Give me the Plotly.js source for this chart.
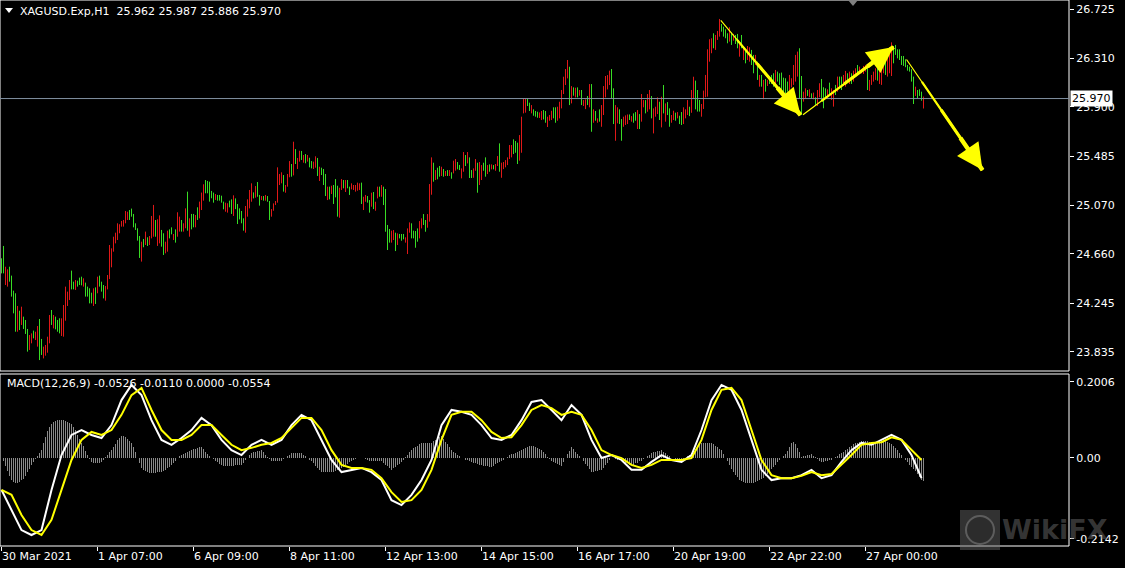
<!DOCTYPE html>
<html><head><meta charset="utf-8">
<script src="https://cdn.plot.ly/plotly-3.0.1.min.js"></script>
<style>html,body{margin:0;padding:0;background:#000;}#chart{width:1125px;height:568px;}</style>
</head><body><div id="chart"></div>
<script>
const symbol = 'XAGUSD.Exp,H1';
const open = [
24.59,24.67,24.44,24.42,24.52,24.44,24.31,24.26,24.05,24.15,
24.09,24.11,24.08,23.99,23.88,23.92,24.00,23.95,23.91,24.04,
23.92,23.80,23.82,23.85,23.94,24.16,24.05,24.11,24.08,24.09,
24.00,24.00,24.13,24.25,24.30,24.48,24.41,24.37,24.42,24.45,
24.45,24.40,24.40,24.37,24.34,24.31,24.25,24.35,24.35,24.46,
24.41,24.37,24.29,24.38,24.47,24.58,24.70,24.77,24.80,24.85,
24.90,24.90,24.94,24.96,25.01,25.03,24.98,24.91,24.86,24.78,
24.62,24.77,24.75,24.79,24.75,24.81,24.84,24.92,24.76,24.78,
24.84,24.80,24.68,24.71,24.85,24.87,24.79,24.85,24.83,24.87,
24.93,24.86,24.90,25.13,24.83,24.97,24.97,24.90,25.03,24.98,
25.05,25.13,25.26,25.25,25.24,25.18,25.16,25.12,25.15,25.15,
25.14,25.09,25.03,25.02,25.10,25.10,25.00,25.11,25.05,25.03,
25.00,24.94,24.87,25.00,25.07,25.13,25.17,25.15,25.24,25.14,
25.12,25.14,25.12,25.14,25.08,24.98,25.03,25.08,25.11,25.26,
25.27,25.30,25.19,25.24,25.33,25.40,25.35,25.52,25.39,25.45,
25.51,25.44,25.49,25.45,25.46,25.43,25.39,25.40,25.44,25.29,
25.38,25.35,25.30,25.13,25.21,25.18,25.22,25.26,25.20,25.00,
25.21,25.27,25.20,25.27,25.21,25.21,25.21,25.20,25.21,25.21,
25.24,25.05,25.11,25.14,25.10,25.07,25.16,25.04,25.14,25.21,
25.16,25.20,25.15,24.87,24.85,24.77,24.79,24.81,24.75,24.82,
24.82,24.82,24.76,24.69,24.85,24.90,24.85,24.83,24.86,24.81,
24.89,24.98,24.93,24.90,24.95,25.20,25.40,25.30,25.37,25.38,
25.33,25.36,25.32,25.36,25.33,25.34,25.35,25.38,25.42,25.40,
25.31,25.37,25.48,25.44,25.45,25.36,25.32,25.38,25.40,25.27,
25.30,25.42,25.45,25.35,25.40,25.38,25.40,25.37,25.41,25.55,
25.32,25.39,25.40,25.42,25.47,25.49,25.60,25.59,25.57,25.47,
25.55,25.86,25.87,25.96,25.92,25.86,25.87,25.86,25.85,25.82,
25.80,25.86,25.85,25.74,25.79,25.80,25.88,25.87,25.80,25.83,
25.91,26.03,26.10,26.16,26.19,25.95,26.05,26.00,26.05,26.00,
26.02,25.92,25.90,25.98,25.92,26.05,25.78,25.85,25.77,25.86,
25.75,25.86,26.00,26.06,26.10,26.19,26.02,25.65,25.78,25.86,
25.77,25.74,25.76,25.77,25.83,25.78,25.83,25.84,25.73,25.82,
25.80,25.91,25.94,25.88,25.90,25.96,25.70,25.83,25.86,25.92,
25.76,26.05,25.80,25.92,25.86,25.78,25.80,25.84,25.81,25.81,
25.84,25.78,25.82,25.85,25.89,25.87,25.99,26.09,26.02,25.94,
25.83,25.90,26.00,26.02,26.30,26.37,26.50,26.40,26.48,26.51,
26.59,26.56,26.54,26.51,26.47,26.51,26.47,26.49,26.49,26.34,
26.48,26.31,26.36,26.31,26.30,26.36,26.31,26.27,26.25,26.09,
26.15,25.99,26.12,26.09,26.13,26.15,26.16,26.10,26.18,26.16,
26.16,26.12,26.11,26.10,26.03,26.08,26.11,26.15,26.19,26.35,
26.12,25.96,25.99,26.03,25.99,26.01,25.97,25.97,25.93,26.00,
26.11,26.04,26.04,26.00,26.09,25.97,25.92,26.07,26.05,26.14,
26.13,26.09,26.09,26.17,26.11,26.17,26.13,26.17,26.24,26.19,
26.188,26.19,26.21,26.22,26.05,26.10,26.13,26.14,26.21,26.11,
26.11,26.20,26.29,26.18,26.21,26.19,26.39,26.41,26.37,26.37,
26.31,26.31,26.29,26.24,26.23,26.20,26.12,26.00,26.03,26.04,
26.02,25.962];
const high = [
24.623,24.727,24.552,24.530,24.552,24.477,24.350,24.328,24.221,24.181,
24.215,24.131,24.103,24.027,23.976,23.990,24.013,24.004,24.052,24.111,
23.943,23.878,23.892,23.962,24.145,24.187,24.145,24.131,24.103,24.117,
24.117,24.229,24.384,24.342,24.440,24.519,24.426,24.440,24.434,24.460,
24.468,24.454,24.418,24.384,24.370,24.333,24.370,24.378,24.468,24.477,
24.426,24.398,24.389,24.482,24.735,24.707,24.805,24.839,24.918,24.910,
24.938,24.946,25.022,25.016,25.030,25.042,24.997,24.918,24.876,24.811,
24.763,24.786,24.848,24.800,24.811,24.980,25.073,24.946,24.952,24.985,
24.862,24.834,24.763,24.856,24.867,24.884,24.828,24.867,25.011,24.974,
24.946,24.918,25.044,25.185,24.960,24.997,24.997,24.988,25.053,25.101,
25.177,25.247,25.283,25.275,25.269,25.191,25.177,25.165,25.157,25.157,
25.151,25.101,25.092,25.087,25.109,25.120,25.154,25.128,25.081,25.044,
25.022,24.960,25.064,25.120,25.199,25.255,25.179,25.232,25.266,25.157,
25.148,25.148,25.157,25.148,25.106,25.038,25.086,25.106,25.390,25.334,
25.348,25.325,25.241,25.334,25.443,25.418,25.606,25.544,25.469,25.530,
25.528,25.494,25.502,25.494,25.471,25.443,25.438,25.483,25.469,25.395,
25.387,25.376,25.334,25.227,25.227,25.235,25.241,25.291,25.235,25.218,
25.291,25.283,25.283,25.283,25.227,25.255,25.241,25.241,25.261,25.255,
25.261,25.142,25.157,25.148,25.114,25.176,25.182,25.100,25.227,25.227,
25.241,25.227,25.207,24.904,24.870,24.856,24.861,24.839,24.833,24.828,
24.828,24.828,24.800,24.875,24.926,24.918,24.856,24.853,24.875,24.937,
24.960,24.996,24.946,24.996,25.249,25.474,25.429,25.367,25.387,25.401,
25.395,25.376,25.359,25.367,25.367,25.348,25.446,25.460,25.435,25.410,
25.381,25.519,25.494,25.519,25.474,25.367,25.381,25.460,25.429,25.435,
25.409,25.429,25.474,25.409,25.415,25.415,25.409,25.418,25.485,25.592,
25.429,25.435,25.451,25.474,25.578,25.578,25.626,25.612,25.598,25.662,
25.817,25.971,25.971,25.971,25.935,25.915,25.879,25.865,25.859,25.853,
25.865,25.873,25.865,25.817,25.831,25.867,25.896,25.896,25.901,25.943,
26.042,26.154,26.219,26.295,26.238,26.075,26.064,26.061,26.064,26.042,
26.042,25.957,25.963,25.991,26.092,26.092,25.879,25.865,25.803,25.879,
25.915,26.075,26.160,26.168,26.205,26.219,26.056,25.915,25.896,25.879,
25.797,25.817,25.828,25.836,25.836,25.822,25.845,25.856,25.873,25.839,
26.008,25.957,25.957,26.008,26.042,25.991,25.887,25.901,25.980,25.943,
25.985,26.084,25.929,25.940,25.887,25.831,25.867,25.851,25.856,25.825,
25.856,25.896,25.879,25.957,25.901,26.042,26.154,26.121,26.042,25.958,
25.924,26.037,26.169,26.385,26.470,26.478,26.520,26.506,26.540,26.641,
26.599,26.576,26.554,26.520,26.571,26.526,26.515,26.506,26.515,26.436,
26.506,26.408,26.385,26.413,26.402,26.380,26.338,26.338,26.281,26.169,
26.169,26.127,26.135,26.127,26.141,26.169,26.183,26.211,26.197,26.183,
26.189,26.146,26.141,26.113,26.169,26.141,26.253,26.338,26.366,26.394,
26.160,26.028,26.056,26.042,26.048,26.014,26.020,25.981,26.042,26.099,
26.135,26.065,26.056,26.048,26.104,26.056,26.042,26.085,26.155,26.155,
26.155,26.169,26.203,26.183,26.197,26.183,26.205,26.225,26.253,26.239,
26.205,26.245,26.253,26.253,26.127,26.169,26.197,26.225,26.225,26.234,
26.295,26.323,26.309,26.323,26.402,26.444,26.413,26.422,26.385,26.385,
26.329,26.329,26.301,26.253,26.239,26.217,26.155,26.070,26.042,26.048,
26.028,25.987];
const low = [
24.496,24.496,24.398,24.384,24.426,24.300,24.159,24.004,24.004,24.018,
24.061,24.027,23.985,23.836,23.850,23.906,23.948,23.934,23.878,23.765,
23.808,23.779,23.802,23.827,23.906,24.061,24.032,24.024,24.004,23.990,
23.968,23.962,24.097,24.221,24.271,24.361,24.361,24.356,24.384,24.398,
24.395,24.384,24.300,24.300,24.243,24.243,24.221,24.238,24.328,24.384,
24.342,24.285,24.266,24.361,24.448,24.547,24.679,24.749,24.777,24.834,
24.890,24.890,24.918,24.946,24.946,24.974,24.884,24.862,24.772,24.626,
24.595,24.716,24.735,24.727,24.735,24.791,24.805,24.805,24.727,24.749,
24.721,24.651,24.665,24.679,24.791,24.825,24.777,24.755,24.805,24.848,
24.848,24.848,24.876,24.856,24.805,24.867,24.884,24.884,24.946,24.960,
25.030,25.109,25.171,25.171,25.101,25.129,25.092,25.115,25.109,25.109,
25.092,25.036,25.016,25.008,25.053,24.997,24.980,25.038,24.912,24.951,
24.918,24.856,24.839,24.974,25.044,25.100,25.128,25.134,25.142,25.067,
25.114,25.109,25.109,25.100,24.946,24.974,25.024,25.072,25.092,25.241,
25.255,25.185,25.176,25.227,25.306,25.311,25.322,25.418,25.376,25.438,
25.452,25.429,25.424,25.438,25.390,25.381,25.376,25.387,25.317,25.275,
25.325,25.241,25.148,25.114,25.120,25.165,25.081,25.137,24.974,24.965,
25.199,25.213,25.182,25.213,25.157,25.204,25.199,25.185,25.193,25.199,
25.081,25.030,25.100,25.092,25.008,25.058,25.038,25.024,25.128,25.142,
25.142,25.072,24.847,24.693,24.755,24.755,24.777,24.684,24.735,24.791,
24.771,24.783,24.755,24.659,24.839,24.791,24.791,24.712,24.763,24.791,
24.875,24.904,24.847,24.881,24.932,25.159,25.269,25.283,25.289,25.311,
25.317,25.311,25.317,25.317,25.317,25.294,25.339,25.362,25.373,25.367,
25.297,25.353,25.401,25.423,25.300,25.300,25.302,25.361,25.176,25.241,
25.283,25.361,25.311,25.333,25.353,25.373,25.373,25.361,25.401,25.353,
25.302,25.375,25.390,25.409,25.460,25.474,25.502,25.513,25.418,25.446,
25.513,25.845,25.851,25.907,25.865,25.845,25.825,25.817,25.808,25.806,
25.789,25.794,25.766,25.730,25.783,25.789,25.803,25.766,25.783,25.803,
25.887,26.008,26.084,26.140,25.915,25.929,25.994,25.980,25.980,25.994,
25.915,25.907,25.881,25.915,25.896,25.690,25.766,25.783,25.766,25.775,
25.732,25.831,25.980,26.047,26.084,25.971,25.755,25.614,25.761,25.755,
25.614,25.732,25.747,25.755,25.789,25.775,25.766,25.783,25.713,25.713,
25.775,25.896,25.845,25.859,25.879,25.803,25.676,25.817,25.839,25.789,
25.727,25.845,25.775,25.831,25.732,25.766,25.789,25.783,25.803,25.755,
25.747,25.755,25.803,25.831,25.822,25.850,25.970,25.879,25.860,25.860,
25.817,25.882,25.981,25.986,26.281,26.352,26.394,26.380,26.464,26.492,
26.534,26.492,26.478,26.436,26.450,26.422,26.458,26.430,26.394,26.323,
26.394,26.295,26.267,26.295,26.281,26.253,26.183,26.253,26.127,26.070,
26.070,25.964,26.028,26.076,26.093,26.093,26.070,26.076,26.113,26.085,
26.042,26.000,25.992,26.028,26.000,26.065,26.085,26.113,26.155,25.972,
25.832,25.944,25.972,25.992,25.981,25.972,25.964,25.916,25.907,25.981,
25.958,25.888,25.972,25.986,26.000,25.958,25.902,26.000,26.028,26.070,
26.042,26.076,26.070,26.104,26.093,26.093,26.113,26.155,26.169,26.177,
26.183,26.177,26.197,26.042,26.034,26.085,26.113,26.127,26.121,26.093,
26.085,26.183,26.169,26.155,26.183,26.160,26.267,26.338,26.309,26.295,
26.253,26.245,26.234,26.205,26.197,26.113,25.924,25.992,25.972,25.992,
25.952,25.886];
const close = [
24.53,24.55,24.51,24.49,24.46,24.34,24.20,24.06,24.17,24.05,
24.18,24.05,24.01,23.87,23.95,23.97,23.96,23.99,24.02,23.80,
23.83,23.86,23.87,23.94,24.11,24.08,24.12,24.04,24.03,24.02,
24.09,24.20,24.35,24.31,24.41,24.39,24.38,24.42,24.40,24.41,
24.41,24.44,24.32,24.32,24.27,24.26,24.34,24.27,24.44,24.40,
24.36,24.30,24.36,24.46,24.69,24.68,24.78,24.82,24.89,24.89,
24.93,24.93,25.00,25.00,24.97,24.99,24.91,24.87,24.79,24.66,
24.74,24.73,24.83,24.74,24.80,24.95,25.02,24.83,24.92,24.95,
24.75,24.68,24.75,24.83,24.81,24.84,24.82,24.78,24.98,24.95,
24.87,24.90,25.02,24.90,24.94,24.89,24.90,24.97,24.97,25.08,
25.15,25.22,25.19,25.19,25.13,25.14,25.11,25.15,25.12,25.12,
25.10,25.05,25.08,25.07,25.06,25.02,25.13,25.05,24.94,24.97,
24.94,24.88,25.04,25.10,25.17,25.23,25.14,25.21,25.16,25.08,
25.14,25.12,25.15,25.11,24.97,25.03,25.08,25.10,25.36,25.32,
25.33,25.21,25.23,25.32,25.42,25.33,25.57,25.44,25.45,25.51,
25.47,25.48,25.44,25.48,25.41,25.39,25.43,25.47,25.34,25.38,
25.34,25.26,25.18,25.21,25.14,25.22,25.11,25.16,25.00,25.19,
25.27,25.23,25.26,25.23,25.17,25.24,25.23,25.23,25.25,25.24,
25.10,25.12,25.15,25.10,25.03,25.16,25.06,25.09,25.21,25.16,
25.22,25.10,24.90,24.72,24.78,24.84,24.85,24.71,24.82,24.80,
24.78,24.79,24.79,24.85,24.91,24.81,24.80,24.74,24.78,24.92,
24.95,24.92,24.87,24.98,25.22,25.44,25.29,25.35,25.31,25.33,
25.38,25.33,25.35,25.33,25.36,25.31,25.43,25.44,25.39,25.38,
25.37,25.49,25.42,25.50,25.33,25.31,25.37,25.44,25.21,25.41,
25.39,25.37,25.33,25.39,25.37,25.41,25.38,25.41,25.47,25.38,
25.41,25.43,25.44,25.46,25.56,25.56,25.53,25.53,25.45,25.64,
25.79,25.95,25.95,25.92,25.88,25.90,25.84,25.83,25.82,25.84,
25.85,25.81,25.78,25.80,25.82,25.85,25.82,25.79,25.88,25.92,
26.01,26.13,26.19,26.27,25.95,26.05,26.01,26.04,26.00,26.03,
25.93,25.95,25.95,25.93,26.07,25.73,25.86,25.80,25.80,25.79,
25.89,26.05,26.14,26.15,26.19,26.00,25.79,25.88,25.88,25.78,
25.65,25.80,25.81,25.82,25.80,25.81,25.78,25.80,25.85,25.74,
25.98,25.95,25.86,25.99,26.02,25.83,25.86,25.89,25.96,25.81,
25.95,25.87,25.91,25.85,25.76,25.82,25.85,25.80,25.85,25.77,
25.77,25.87,25.87,25.94,25.84,26.01,26.13,25.91,25.89,25.88,
25.91,26.01,26.14,26.34,26.44,26.46,26.42,26.49,26.53,26.61,
26.55,26.51,26.49,26.45,26.55,26.44,26.50,26.45,26.42,26.42,
26.41,26.39,26.29,26.39,26.38,26.28,26.21,26.32,26.15,26.15,
26.09,26.10,26.05,26.12,26.10,26.11,26.09,26.19,26.13,26.10,
26.07,26.03,26.02,26.05,26.14,26.13,26.23,26.31,26.34,26.01,
25.87,26.01,26.04,26.00,26.04,25.98,26.01,25.93,26.02,26.08,
25.99,25.91,25.99,26.04,26.02,26.04,26.02,26.02,26.13,26.09,
26.07,26.15,26.18,26.12,26.18,26.11,26.19,26.21,26.19,26.23,
26.20,26.23,26.24,26.07,26.11,26.15,26.18,26.21,26.14,26.21,
26.27,26.30,26.19,26.30,26.37,26.42,26.29,26.35,26.32,26.31,
26.27,26.26,26.25,26.21,26.20,26.13,25.95,26.06,25.99,26.00,
25.97,25.970];

// MACD lines, sampled every 5 bars
const macdStep = 5;
const macdMain = [
-0.085,-0.138,-0.191,-0.204,-0.191,-0.085,0.007,0.060,0.073,0.060,
0.052,0.086,0.152,0.192,0.165,0.099,0.047,0.034,0.052,0.073,
0.105,0.086,0.047,0.020,0.007,0.034,0.047,0.034,0.047,0.086,
0.113,0.099,0.047,-0.006,-0.038,-0.032,-0.027,-0.038,-0.059,-0.112,
-0.125,-0.098,-0.059,-0.006,0.086,0.126,0.121,0.113,0.086,0.052,
0.047,0.060,0.099,0.147,0.152,0.126,0.099,0.139,0.113,0.047,
-0.001,0.007,-0.006,-0.032,-0.032,-0.011,0.007,-0.006,-0.011,0.007,
0.073,0.152,0.192,0.179,0.126,0.047,-0.032,-0.059,-0.054,-0.054,
-0.046,-0.032,-0.054,-0.046,-0.011,0.020,0.039,0.034,0.047,0.060,
0.047,0.007,-0.054];
const macdSignal = [
-0.085,-0.098,-0.151,-0.191,-0.204,-0.164,-0.085,-0.006,0.047,0.068,
0.060,0.073,0.113,0.165,0.184,0.126,0.073,0.047,0.047,0.060,
0.086,0.086,0.060,0.034,0.020,0.026,0.034,0.039,0.052,0.078,
0.105,0.105,0.073,0.020,-0.019,-0.027,-0.027,-0.032,-0.054,-0.091,
-0.117,-0.112,-0.085,-0.032,0.047,0.113,0.121,0.121,0.099,0.068,
0.052,0.054,0.086,0.126,0.139,0.131,0.113,0.121,0.113,0.073,
0.020,0.007,-0.001,-0.019,-0.027,-0.019,-0.006,-0.006,-0.006,-0.001,
0.047,0.126,0.179,0.184,0.152,0.073,-0.006,-0.046,-0.054,-0.054,
-0.048,-0.038,-0.046,-0.043,-0.019,0.007,0.034,0.039,0.041,0.054,
0.047,0.020,-0.006];
// MACD histogram, one value per bar
const macdHist = [
0.000,-0.010,-0.022,-0.035,-0.048,-0.060,-0.064,-0.066,-0.066,-0.063,
-0.060,-0.055,-0.047,-0.038,-0.029,-0.020,-0.012,-0.004,0.004,0.012,
0.020,0.038,0.055,0.070,0.082,0.090,0.094,0.097,0.099,0.100,
0.100,0.099,0.097,0.094,0.092,0.090,0.082,0.072,0.060,0.050,
0.040,0.030,0.018,0.006,-0.004,-0.012,-0.014,-0.015,-0.015,-0.013,
-0.012,-0.005,0.002,0.008,0.014,0.020,0.028,0.037,0.046,0.053,
0.058,0.057,0.054,0.049,0.045,0.040,0.028,0.014,0.000,-0.015,
-0.028,-0.032,-0.035,-0.038,-0.040,-0.040,-0.040,-0.040,-0.039,-0.039,
-0.039,-0.036,-0.032,-0.028,-0.024,-0.020,-0.014,-0.008,-0.002,0.004,
0.008,0.010,0.013,0.015,0.018,0.020,0.022,0.024,0.026,0.027,
0.028,0.023,0.016,0.010,0.005,0.000,-0.004,-0.008,-0.012,-0.016,
-0.020,-0.021,-0.021,-0.021,-0.021,-0.021,-0.021,-0.020,-0.020,-0.020,
-0.020,-0.013,-0.006,0.000,0.006,0.012,0.014,0.016,0.018,0.019,
0.020,0.014,0.008,0.002,-0.004,-0.008,-0.008,-0.008,-0.008,-0.008,
-0.008,-0.004,0.000,0.004,0.008,0.012,0.012,0.012,0.012,0.012,
0.012,0.008,0.004,-0.001,-0.005,-0.009,-0.015,-0.021,-0.027,-0.033,
-0.039,-0.039,-0.039,-0.039,-0.039,-0.039,-0.037,-0.034,-0.032,-0.030,
-0.028,-0.024,-0.020,-0.016,-0.012,-0.008,-0.006,-0.004,-0.002,-0.001,
0.000,-0.002,-0.004,-0.006,-0.008,-0.009,-0.009,-0.008,-0.008,-0.008,
-0.008,-0.013,-0.018,-0.023,-0.028,-0.032,-0.028,-0.024,-0.020,-0.016,
-0.012,-0.005,0.002,0.008,0.015,0.021,0.025,0.029,0.032,0.036,
0.039,0.039,0.039,0.039,0.039,0.039,0.043,0.047,0.051,0.055,
0.058,0.050,0.042,0.035,0.027,0.020,0.016,0.012,0.008,0.004,
0.000,-0.002,-0.005,-0.007,-0.010,-0.012,-0.014,-0.015,-0.017,-0.018,
-0.020,-0.021,-0.022,-0.023,-0.024,-0.024,-0.021,-0.017,-0.014,-0.011,
-0.008,-0.005,-0.001,0.002,0.006,0.009,0.011,0.013,0.016,0.018,
0.020,0.022,0.025,0.027,0.030,0.032,0.030,0.027,0.025,0.022,
0.020,0.014,0.009,0.003,-0.003,-0.008,-0.011,-0.013,-0.016,-0.018,
-0.021,-0.011,0.000,0.010,0.019,0.027,0.022,0.016,0.011,0.005,
0.000,-0.008,-0.016,-0.023,-0.031,-0.039,-0.038,-0.036,-0.035,-0.033,
-0.032,-0.026,-0.019,-0.013,-0.006,0.000,-0.002,-0.003,-0.005,-0.006,
-0.008,-0.010,-0.013,-0.015,-0.018,-0.020,-0.018,-0.015,-0.013,-0.010,
-0.008,-0.004,0.000,0.004,0.008,0.012,0.014,0.015,0.017,0.018,
0.020,0.016,0.012,0.008,0.004,0.000,-0.002,-0.003,-0.005,-0.006,
-0.008,-0.004,0.000,0.004,0.008,0.012,0.017,0.023,0.028,0.034,
0.039,0.039,0.039,0.039,0.039,0.039,0.035,0.031,0.028,0.024,
0.020,0.010,0.000,-0.010,-0.020,-0.030,-0.038,-0.045,-0.052,-0.058,
-0.062,-0.065,-0.067,-0.068,-0.068,-0.067,-0.066,-0.064,-0.062,-0.060,
-0.057,-0.053,-0.048,-0.043,-0.037,-0.031,-0.025,-0.018,-0.012,-0.006,
0.000,0.004,0.010,0.018,0.028,0.038,0.042,0.036,0.026,0.014,
0.003,0.004,0.005,0.007,0.008,0.009,0.005,0.001,-0.004,-0.008,
-0.012,-0.011,-0.009,-0.008,-0.006,-0.005,-0.002,0.002,0.005,0.009,
0.012,0.016,0.020,0.024,0.028,0.032,0.035,0.038,0.040,0.042,
0.043,0.044,0.044,0.043,0.042,0.040,0.040,0.041,0.042,0.043,
0.044,0.044,0.043,0.042,0.040,0.037,0.032,0.026,0.020,0.013,
0.006,0.000,-0.006,-0.012,-0.018,-0.024,-0.030,-0.036,-0.044,-0.052,
-0.060,-0.062];
const macdHeader = 'MACD(12,26,9)';
const macdHeaderVals = [-0.0526, -0.0110, 0.0000, -0.0554];

const priceTicks = [26.725,26.310,25.900,25.485,25.070,24.660,24.245,23.835];
const macdTicks = [0.2006, 0, -0.2142];
const macdTickText = ['0.2006','0.00','-0.2142'];
const timeTickIdx = [0,48,96,144,192,240,288,336,384,432];
const timeTickText = ['30 Mar 2021','1 Apr 07:00','6 Apr 09:00','8 Apr 11:00','12 Apr 13:00','14 Apr 15:00','16 Apr 17:00','20 Apr 19:00','22 Apr 22:00','27 Apr 00:00'];
// drawn trend arrows: [bar from, price from, bar to, price to]
const arrows = [[359,26.641,399.5,25.831],[400,25.823,446,26.405],[452,26.312,490.5,25.367]];

// ---- layout constants (pixels) ----
const PW = 1069, PH = 546;
const priceBotPx = 371, macdTopPx = 374;
const px2paperX = p => p / PW;
const px2paperY = p => (PH - p) / PH;

const idx = open.map((_, i) => i);
const macdIdx = macdMain.map((_, i) => i * macdStep);

const FONT = 'DejaVu Sans';
const traces = [
  {type:'ohlc', x: idx, open, high, low, close, xaxis:'x', yaxis:'y',
   increasing:{line:{color:'#e01818', width:1}}, decreasing:{line:{color:'#38dc24', width:1}},
   tickwidth:0, hoverinfo:'skip'},
  {type:'bar', x: idx, y: macdHist, xaxis:'x', yaxis:'y2', width:0.5,
   marker:{color:'#8a8a8a', line:{width:0}}, hoverinfo:'skip'},
  {type:'scatter', mode:'lines', x: macdIdx, y: macdMain, xaxis:'x', yaxis:'y2',
   line:{color:'#ffffff', width:2}, hoverinfo:'skip'},
  {type:'scatter', mode:'lines', x: macdIdx, y: macdSignal, xaxis:'x', yaxis:'y2',
   line:{color:'#ffff00', width:2}, hoverinfo:'skip'}
];

const last = open.length - 1;
const annotations = [
  {xref:'paper', yref:'paper', x: px2paperX(18), y: px2paperY(11), xanchor:'left', yanchor:'middle',
   text: symbol + '&nbsp;&nbsp;' + [open[last], high[last], low[last], close[last]].map(v => v.toFixed(3)).join(' '),
   showarrow:false, font:{family:FONT, size:11, color:'#ffffff'}},
  {xref:'paper', yref:'paper', x: px2paperX(5), y: px2paperY(383), xanchor:'left', yanchor:'middle',
   text: macdHeader + ' ' + macdHeaderVals.map(v => v.toFixed(4)).join(' '),
   showarrow:false, font:{family:FONT, size:11, color:'#ffffff'}},
  {xref:'paper', yref:'y', x: 1, y: close[last], xanchor:'left', yanchor:'middle', xshift:1,
   text: close[last].toFixed(3), showarrow:false, bgcolor:'#ffffff', borderpad:1,
   font:{family:FONT, size:11, color:'#000000'}},
  {xref:'paper', yref:'paper', x: px2paperX(1110), y: px2paperY(529), xanchor:'right', yanchor:'middle',
   text:'<b>WikiFX</b>', showarrow:false, font:{family:FONT, size:27, color:'rgba(120,120,120,0.45)'}}
];
arrows.forEach(a => {
  const [x0, y0, x1, y1] = a;
  const seg = (f, w, head) => ({xref:'x', yref:'y', axref:'x', ayref:'y',
    x: x1, y: y1, ax: x0 + (x1 - x0) * f, ay: y0 + (y1 - y0) * f, text:'',
    showarrow:true, arrowhead: head ? 2 : 0, arrowsize: head ? 1.0 : 1, arrowwidth: w,
    arrowcolor:'#ffff00', standoff:0});
  annotations.push(seg(0, 1.2, false), seg(0.2, 2.2, false), seg(0.45, 3.2, false), seg(0.7, 4.4, false), seg(0.85, 5.2, true));
});

const shapes = [
  {type:'rect', xref:'paper', yref:'paper', x0:0, x1:1, y0:px2paperY(priceBotPx), y1:1, line:{color:'#ffffff', width:1}},
  {type:'rect', xref:'paper', yref:'paper', x0:0, x1:1, y0:0, y1:px2paperY(macdTopPx), line:{color:'#ffffff', width:1}},
  {type:'line', xref:'paper', yref:'y', x0:0, x1:1, y0:close[last], y1:close[last], line:{color:'#8090a0', width:1}},
  {type:'path', xref:'paper', yref:'paper', path:'M ' + px2paperX(5) + ' ' + px2paperY(8) + ' L ' + px2paperX(13) + ' ' + px2paperY(8) + ' L ' + px2paperX(9) + ' ' + px2paperY(13) + ' Z',
   fillcolor:'#ffffff', line:{width:0}},
  {type:'path', xref:'paper', yref:'paper', path:'M ' + px2paperX(848) + ' ' + px2paperY(0) + ' L ' + px2paperX(858) + ' ' + px2paperY(0) + ' L ' + px2paperX(853) + ' ' + px2paperY(6) + ' Z',
   fillcolor:'#808080', line:{width:0}},
  // watermark logo
  {type:'rect', xref:'paper', yref:'paper', x0:px2paperX(960), x1:px2paperX(1000), y0:px2paperY(550), y1:px2paperY(510),
   fillcolor:'rgba(110,110,110,0.45)', line:{width:0}},
  {type:'circle', xref:'paper', yref:'paper', x0:px2paperX(966), x1:px2paperX(994), y0:px2paperY(544), y1:px2paperY(516),
   fillcolor:'rgba(40,40,40,0.6)', line:{color:'rgba(140,140,140,0.5)', width:2}}
];

const layout = {
  width:1125, height:568,
  margin:{l:0, r:1125 - PW, t:0, b:568 - PH, pad:0},
  paper_bgcolor:'#000000', plot_bgcolor:'#000000', showlegend:false, bargap:0,
  font:{family:FONT, size:11, color:'#ffffff'},
  xaxis:{range:[-0.75, 533.75], anchor:'y2', showgrid:false, zeroline:false, showline:false,
    ticks:'outside', ticklen:4, tickcolor:'#ffffff', tickvals: timeTickIdx, ticktext: timeTickText,
    ticklabelposition:'outside right', tickfont:{family:FONT, size:11, color:'#ffffff'},
    rangeslider:{visible:false}, fixedrange:true},
  yaxis:{domain:[px2paperY(priceBotPx), 1], range:[26.725 - (priceBotPx - 9) / 118.6, 26.725 + 9 / 118.6],
    side:'right', showgrid:false, zeroline:false, showline:false, ticks:'outside', ticklen:4, tickcolor:'#ffffff',
    tickvals: priceTicks, ticktext: priceTicks.map(v => v.toFixed(3)), tickfont:{family:FONT, size:11, color:'#ffffff'}, fixedrange:true},
  yaxis2:{domain:[0, px2paperY(macdTopPx)], range:[-(PH - 457.7) / 379, (457.7 - macdTopPx) / 379],
    side:'right', showgrid:false, zeroline:false, showline:false, ticks:'outside', ticklen:4, tickcolor:'#ffffff',
    tickvals: macdTicks, ticktext: macdTickText, tickfont:{family:FONT, size:11, color:'#ffffff'}, fixedrange:true},
  annotations, shapes
};

Plotly.newPlot('chart', traces, layout, {displayModeBar:false, staticPlot:true});
</script></body></html>
